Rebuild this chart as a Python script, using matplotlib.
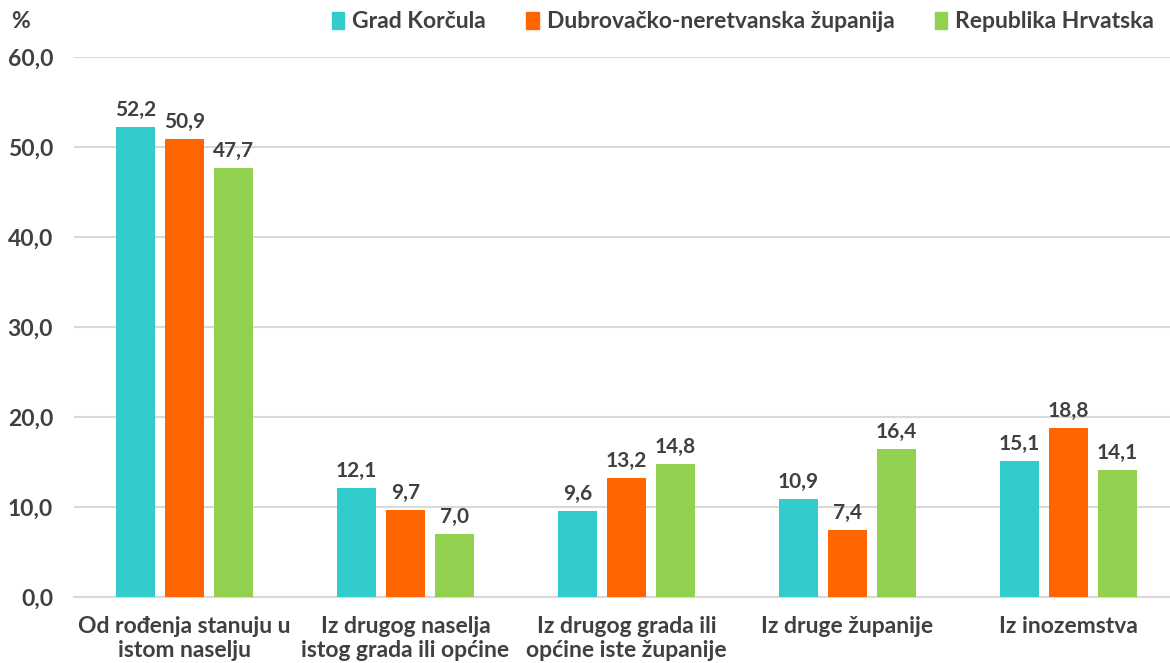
import numpy as np
import matplotlib.pyplot as plt
from matplotlib.patches import Patch

plt.rcParams['font.family'] = ['Lato', 'DejaVu Sans']

# data
categories = ['Od rođenja stanuju u\nistom naselju',
              'Iz drugog naselja\nistog grada ili općine',
              'Iz drugog grada ili\nopćine iste županije',
              'Iz druge županije',
              'Iz inozemstva']
series_names = ['Grad Korčula', 'Dubrovačko-neretvanska županija', 'Republika Hrvatska']
korcula = [52.2, 12.1, 9.6, 10.9, 15.1]
dnz = [50.9, 9.7, 13.2, 7.4, 18.8]
rh = [47.7, 7.0, 14.8, 16.4, 14.1]
yticks = [0, 10, 20, 30, 40, 50, 60]

colors = ['#33CCCC', '#FF6600', '#92D050']
text_col = '#404040'

fig = plt.figure(figsize=(11.7, 6.63), dpi=100)
ax = fig.add_axes([74 / 1170, 1 - 597 / 663, 1105 / 1170, 540 / 663])

x = np.arange(len(categories))
width = 0.177
offsets = [-0.222, 0, 0.222]

for vals, off, col, name in zip([korcula, dnz, rh], offsets, colors, series_names):
    bars = ax.bar(x + off, vals, width, color=col, label=name, zorder=3)
    for b, v in zip(bars, vals):
        ax.annotate(f'{v:.1f}'.replace('.', ','), (b.get_x() + b.get_width() / 2, v),
                    xytext=(0, 5), textcoords='offset points', ha='center', va='bottom',
                    fontsize=15, fontweight='bold', color=text_col)

ax.set_xlim(-0.5, len(categories) - 0.5)
ax.set_ylim(0, 60)
ax.set_yticks(yticks)
ax.set_yticklabels([f'{t:.1f}'.replace('.', ',') for t in yticks],
                   fontsize=16.5, fontweight='bold', color=text_col)
ax.set_xticks(x)
ax.set_xticklabels(categories, fontsize=16.5, fontweight='bold', color=text_col,
                   linespacing=1.15)
ax.tick_params(axis='both', length=0)
ax.tick_params(axis='x', pad=14)
ax.tick_params(axis='y', pad=15)
ax.yaxis.grid(True, color='#D9D9D9', linewidth=1.5, zorder=0)
for s in ['top', 'right', 'left']:
    ax.spines[s].set_visible(False)
ax.spines['bottom'].set_color('#D9D9D9')
ax.spines['bottom'].set_linewidth(1.5)

fig.text(11 / 1170, 1 - 22 / 663, '%', fontsize=16.5, fontweight='bold',
         color=text_col, va='center', ha='left')

handles = [Patch(color=c, label=n) for c, n in zip(colors, series_names)]
leg = fig.legend(handles=handles, loc='center left', ncol=3, frameon=False,
                 bbox_to_anchor=(311 / 1170, 1 - 22 / 663),
                 handlelength=0.55, handleheight=0.7, handletextpad=0.35,
                 columnspacing=1.75, prop={'size': 16.5, 'weight': 'bold'})
for t in leg.get_texts():
    t.set_color(text_col)

fig.savefig('out.png', dpi=100)
